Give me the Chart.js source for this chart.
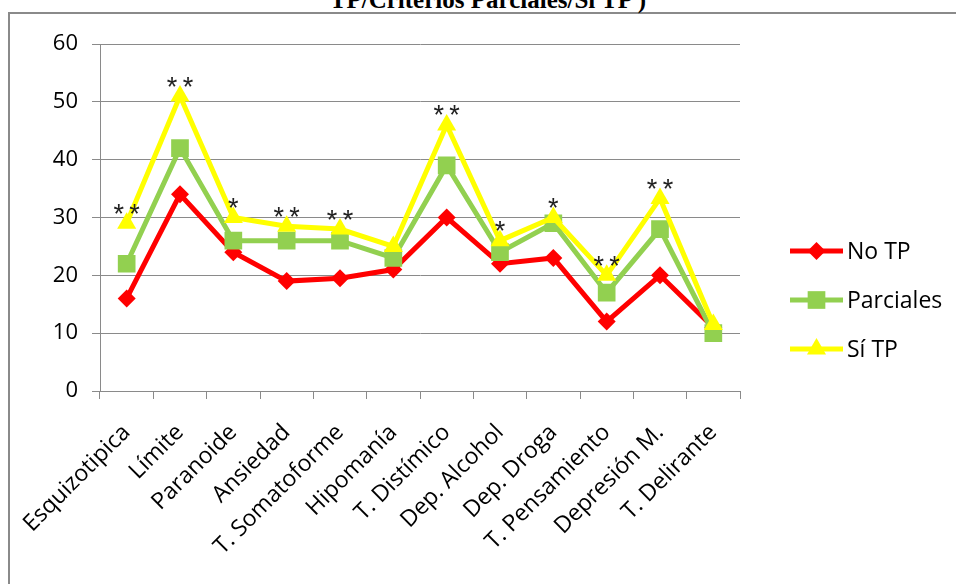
<!DOCTYPE html>
<html>
<head>
<meta charset="utf-8">
<script src="https://cdn.jsdelivr.net/npm/chart.js@4/dist/chart.umd.min.js"></script>
<style>
  html, body { margin: 0; padding: 0; background: #fff; overflow: hidden; }
  #wrap { position: relative; width: 956px; height: 584px; overflow: hidden; }
  #frame { position: absolute; left: 8px; top: 12px; width: 1000px; height: 700px;
           border: 2px solid #8a8a8a; box-sizing: border-box; }
  #title { position: absolute; left: 10px; width: 956px; top: -13px; text-align: center;
           font: bold 25px/25px "Liberation Serif", serif; color: #000; white-space: nowrap; }
  canvas { position: absolute; left: 0; top: 0; }
</style>
</head>
<body>
<div id="wrap">
  <div id="frame"></div>
  <div id="title">TP/Criterios Parciales/Sí TP )</div>
  <canvas id="c" width="956" height="584"></canvas>
</div>
<script>
// Categories (diagnoses) along the x axis
const categories = ['Esquizotipica', 'Límite', 'Paranoide', 'Ansiedad', 'T. Somatoforme',
  'Hipomanía', 'T. Distímico', 'Dep. Alcohol', 'Dep. Droga', 'T. Pensamiento',
  'Depresión M.', 'T. Delirante'];

// Series values
const noTP      = [16, 34, 24, 19, 19.5, 21, 30, 22, 23, 12, 20, 11];
const parciales = [22, 42, 26, 26, 26, 23, 39, 24, 29, 17, 28, 10];
const siTP      = [29, 51, 30, 28.5, 28, 25, 46, 26, 30, 20, 33.3, 11.5];

// Significance marks shown above the "Sí TP" points
const significance = ['**', '**', '*', '**', '**', '', '**', '*', '*', '**', '**', ''];

// Value axis range and step
const yMin = 0, yMax = 60, yStep = 10;

const FONT = '"Open Sans", "Noto Sans", sans-serif';
const GRID = '#8a8a8a';

// Draws the significance asterisks and an Excel-style legend (line + marker)
const extras = {
  id: 'extras',
  afterDatasetsDraw(chart) {
    const ctx = chart.ctx;
    const area = chart.chartArea;

    // asterisks over the top series
    const topIdx = chart.data.datasets.findIndex(d => d.label === 'Sí TP');
    const meta = chart.getDatasetMeta(topIdx);
    ctx.save();
    ctx.fillStyle = '#222';
    ctx.font = '27px "Liberation Sans", sans-serif';
    ctx.textAlign = 'center';
    ctx.textBaseline = 'middle';
    meta.data.forEach((pt, i) => {
      const s = significance[i];
      if (!s) return;
      const txt = s.split('').join('\u2009');
      ctx.fillText(txt, pt.x, pt.y - 8);
    });
    ctx.restore();

    // legend
    const x0 = area.right + 50;
    const lineLen = 53;
    const rowGap = 49;
    const yc = 300;
    const n = chart.data.datasets.length;
    ctx.save();
    ctx.font = '23px ' + FONT;
    ctx.textBaseline = 'middle';
    ctx.textAlign = 'left';
    chart.data.datasets.forEach((ds, i) => {
      const y = yc + (i - (n - 1) / 2) * rowGap;
      ctx.strokeStyle = ds.borderColor;
      ctx.lineWidth = ds.borderWidth;
      ctx.beginPath();
      ctx.moveTo(x0, y);
      ctx.lineTo(x0 + lineLen, y);
      ctx.stroke();
      ctx.fillStyle = ds.pointBackgroundColor;
      Chart.helpers.drawPoint(ctx, {
        pointStyle: ds.pointStyle, radius: ds.pointRadius, rotation: 0, borderWidth: 0
      }, x0 + lineLen / 2, y);
      ctx.fillStyle = '#000';
      ctx.fillText(ds.label, x0 + lineLen + 4, y + 1);
    });
    ctx.restore();
  }
};

new Chart(document.getElementById('c'), {
  type: 'line',
  data: {
    labels: categories,
    datasets: [
      { label: 'No TP', data: noTP, borderColor: '#ff0000', backgroundColor: '#ff0000',
        pointBackgroundColor: '#ff0000', pointBorderWidth: 0, borderWidth: 5,
        pointStyle: 'rectRot', pointRadius: 9, order: 2 },
      { label: 'Parciales', data: parciales, borderColor: '#92d050', backgroundColor: '#92d050',
        pointBackgroundColor: '#92d050', pointBorderWidth: 0, borderWidth: 5,
        pointStyle: 'rect', pointRadius: 12.5, order: 1 },
      { label: 'Sí TP', data: siTP, borderColor: '#ffff00', backgroundColor: '#ffff00',
        pointBackgroundColor: '#ffff00', pointBorderWidth: 0, borderWidth: 5,
        pointStyle: 'triangle', pointRadius: 11, order: 0 }
    ]
  },
  options: {
    responsive: false,
    animation: false,
    events: [],
    layout: { padding: { top: 44, right: 216, bottom: 0, left: 0 } },
    elements: { line: { tension: 0 } },
    plugins: { legend: { display: false }, tooltip: { enabled: false } },
    scales: {
      x: {
        offset: true,
        grid: { offset: true, drawOnChartArea: false, drawTicks: true, tickLength: 8,
                color: GRID, lineWidth: 1 },
        border: { color: GRID, width: 1 },
        ticks: { minRotation: 45, maxRotation: 45, autoSkip: false, padding: 20,
                 color: '#000', font: { family: FONT, size: 23 } },
        afterFit(s) { s.height = 193; }
      },
      y: {
        min: yMin, max: yMax,
        grid: { color: GRID, lineWidth: 1, tickLength: 8 },
        border: { color: GRID, width: 1 },
        ticks: { stepSize: yStep, padding: 14, color: '#000', font: { family: FONT, size: 22 } },
        afterFit(s) { s.width = 100; }
      }
    }
  },
  plugins: [extras]
});
</script>
</body>
</html>
